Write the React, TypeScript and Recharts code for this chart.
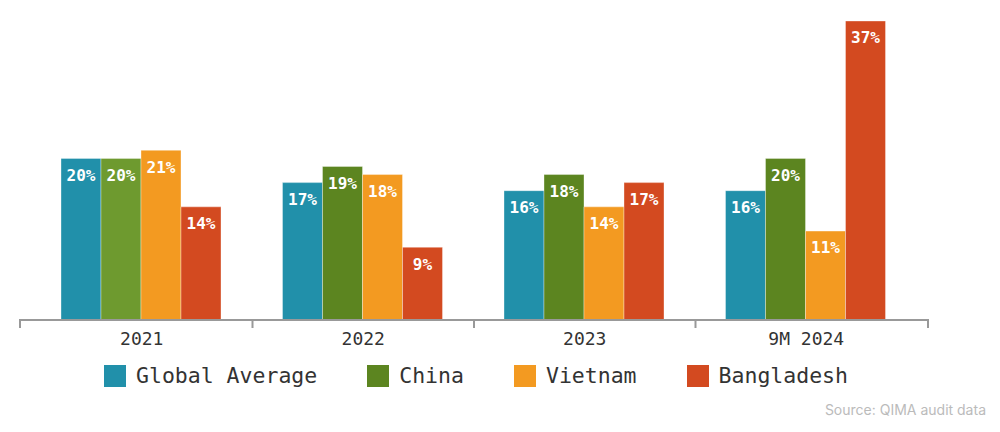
import { BarChart, Bar, XAxis, YAxis, LabelList, Cell } from 'recharts';

const years = ['2021', '2022', '2023', '9M 2024'];
const globalAverage = [20, 17, 16, 16];
const china = [20, 19, 18, 20];
const vietnam = [21, 18, 14, 11];
const bangladesh = [14, 9, 17, 37];

const series = [
  { key: 'global', name: 'Global Average', color: '#2190aa' },
  { key: 'china', name: 'China', color: '#5c8520' },
  { key: 'vietnam', name: 'Vietnam', color: '#f39a21' },
  { key: 'bangladesh', name: 'Bangladesh', color: '#d34a20' },
];

const data = years.map((year, i) => ({
  year,
  global: globalAverage[i],
  china: china[i],
  vietnam: vietnam[i],
  bangladesh: bangladesh[i],
}));

const MONO = '"DejaVu Sans Mono", "Liberation Mono", monospace';
const PAD = 11;
const BAND = (908 - PAD * 2) / years.length;

function YearTick(props: any) {
  const { x, y, payload, index } = props;
  const ticks: number[] = [];
  if (index === 0) ticks.push(x - BAND / 2 - PAD);
  else ticks.push(x - BAND / 2);
  if (index === years.length - 1) ticks.push(x + BAND / 2 + PAD);
  return (
    <g>
      {ticks.map((tx) => (
        <line key={tx} x1={tx} x2={tx} y1={y - 9} y2={y} stroke="#999" strokeWidth={2} />
      ))}
      <text x={x} y={y + 17} textAnchor="middle" fontFamily={MONO} fontSize={18} fill="#333">
        {payload.value}
      </text>
    </g>
  );
}

export default function App() {
  return (
    <div style={{ position: 'fixed', left: 0, top: 0, width: 1000, height: 432, background: '#fff' }}>
      <BarChart
        width={1000}
        height={432}
        data={data}
        margin={{ top: 21, right: 72, left: 20, bottom: 72 }}
        barCategoryGap={30}
        barGap={0}
      >
        <XAxis
          dataKey="year"
          padding={{ left: PAD, right: PAD }}
          axisLine={{ stroke: '#999', strokeWidth: 2 }}
          tickLine={false}
          tick={<YearTick />}
          height={40}
          interval={0}
        />
        <YAxis hide domain={[0, 37]} />
        {series.map((s) => (
          <Bar
            key={s.key}
            dataKey={s.key}
            name={s.name}
            fill={s.color}
            stroke="rgba(255,255,255,0.35)"
            strokeWidth={1}
            isAnimationActive={false}
          >
            {s.key === 'china' &&
              data.map((d, i) => <Cell key={d.year} fill={i === 0 ? '#6e9a2f' : s.color} />)}
            <LabelList
              dataKey={s.key}
              position="insideTop"
              offset={11}
              formatter={(v: any) => `${v}%`}
              fill="#fff"
              stroke="none"
              fontFamily={MONO}
              fontSize={16}
              fontWeight="bold"
            />
          </Bar>
        ))}
      </BarChart>
      <div
        style={{
          position: 'absolute',
          top: 363,
          left: 104,
          display: 'flex',
          gap: 50,
          fontFamily: MONO,
          fontSize: 21.5,
          color: '#333',
        }}
      >
        {series.map((s) => (
          <div key={s.key} style={{ display: 'flex', alignItems: 'center' }}>
            <span style={{ width: 22, height: 22, background: s.color, display: 'inline-block', marginRight: 10 }} />
            <span>{s.name}</span>
          </div>
        ))}
      </div>
      <div
        style={{
          position: 'absolute',
          top: 401,
          right: 14,
          fontFamily: 'Inter, sans-serif',
          fontSize: 14,
          color: '#bbb',
        }}
      >
        Source: QIMA audit data
      </div>
    </div>
  );
}
